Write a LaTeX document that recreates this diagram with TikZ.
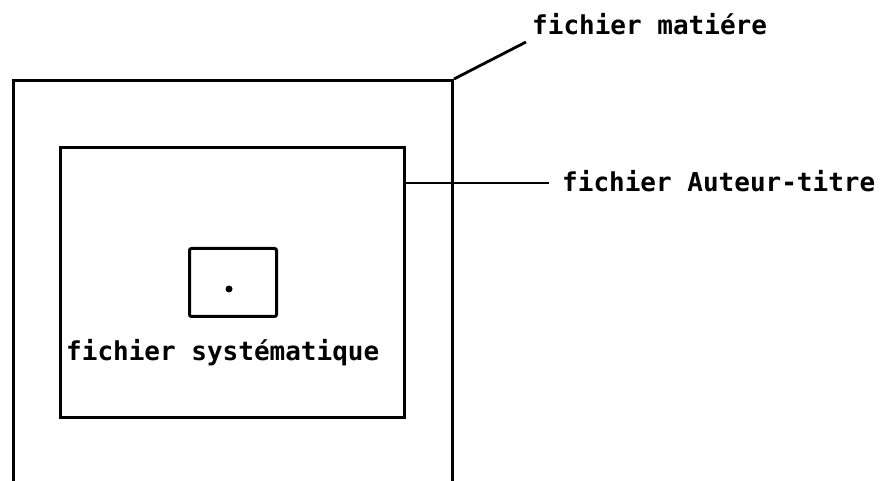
\documentclass[tikz,border=0pt]{standalone}
\usepackage{fontspec}
\newfontfamily\typewr{DejaVu Sans Mono Bold}
\begin{document}
\begin{tikzpicture}[x=1pt,y=-1pt,
  frame/.style={draw=black,line width=3pt,rectangle,inner sep=0pt,anchor=north west},
  leader/.style={draw=black,line width=2.8pt},
  lbl/.style={font=\typewr\fontsize{26}{30}\selectfont,inner sep=0pt,anchor=base west}]
\useasboundingbox (0,0) rectangle (887,481);
% outer file (open at the bottom, runs past the page)
\node[frame,minimum width=439pt,minimum height=460pt] (outer) at (12,79) {};
% inner file
\node[frame,minimum width=344pt,minimum height=270pt] (inner) at (59,146) {};
% small file
\node[frame,rounded corners=2pt,minimum width=87pt,minimum height=68pt] (small) at (188,247) {};
\fill (229,289) circle (3.5pt);
% labels
\node[lbl] (matiere) at (532,35) {fichier matiére};
\node[lbl] (auteur) at (562,192) {fichier Auteur-titre};
\node[lbl] (syst) at (66,360) {fichier systématique};
% leaders
\coordinate (mend) at (526,42);
\coordinate (aend) at (549,183);
\draw[leader] (outer.north east) -- (mend);
\draw[leader] (inner.east |- aend) -- (aend);
\end{tikzpicture}
\end{document}
